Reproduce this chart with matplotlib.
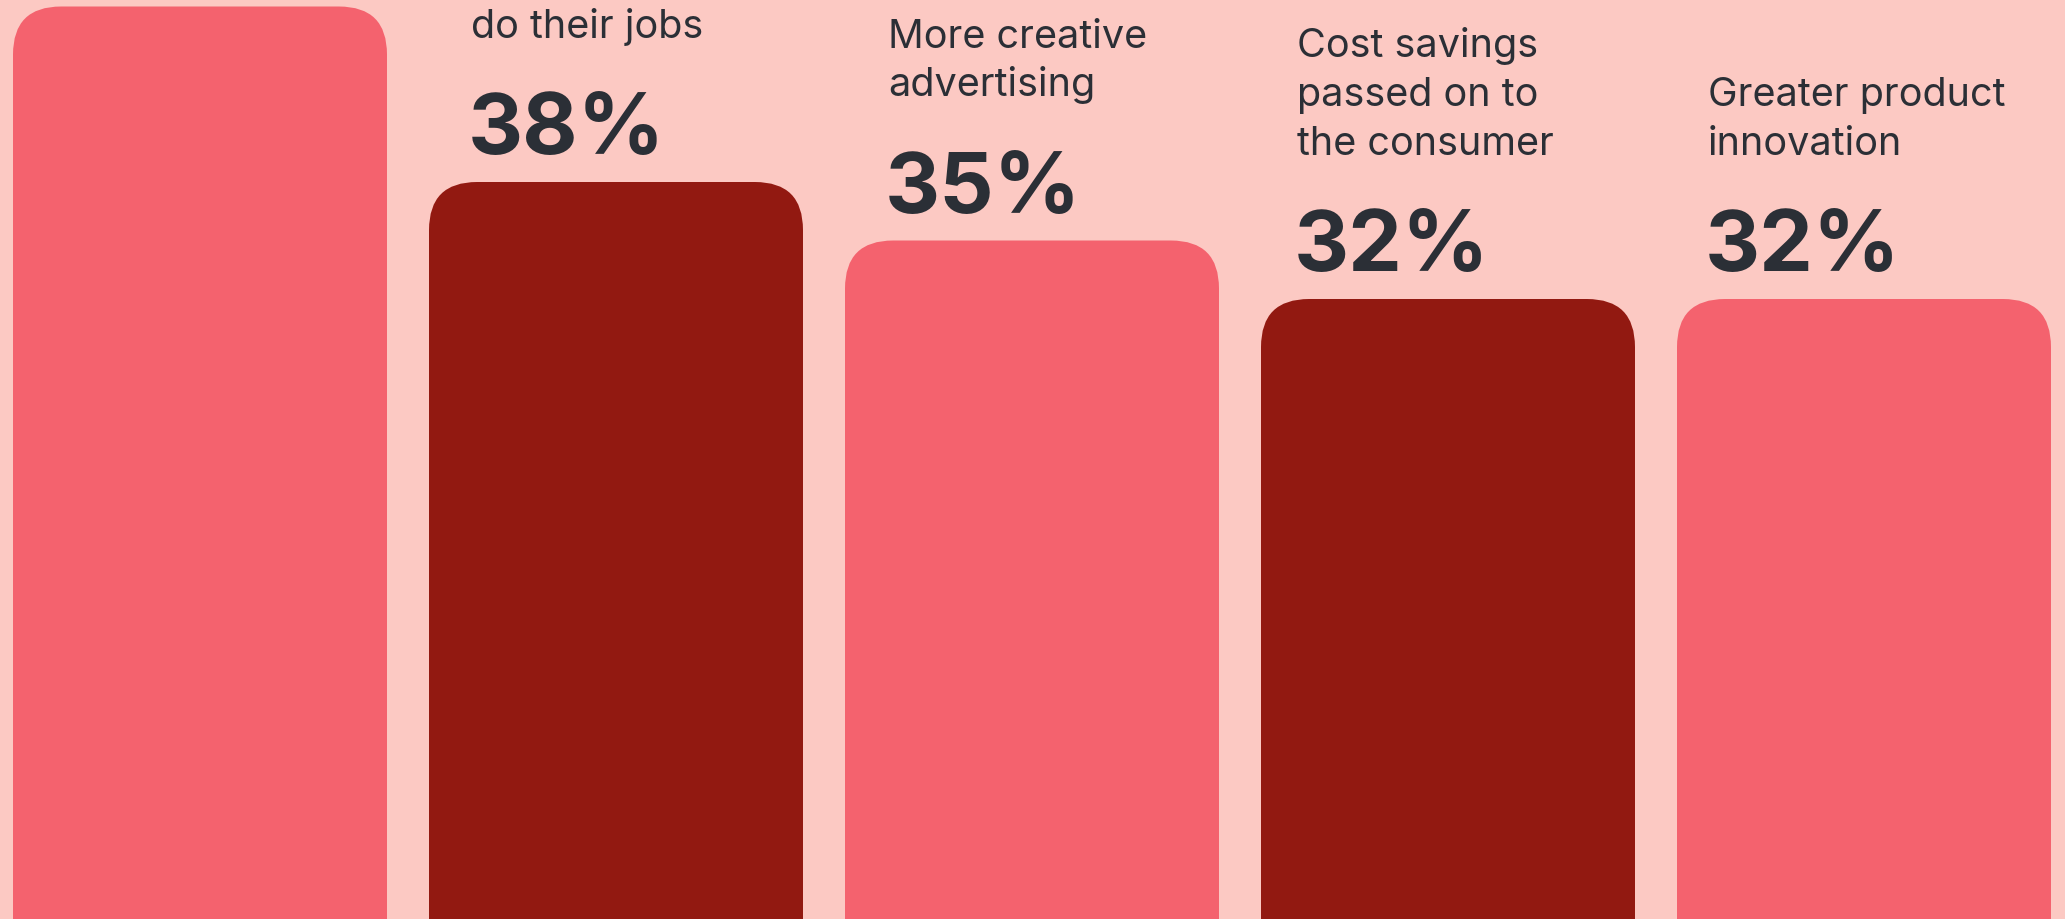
import matplotlib
matplotlib.use("Agg")
import matplotlib.pyplot as plt
from matplotlib.patches import FancyBboxPatch

# Survey results: share of respondents citing each benefit
categories = [
    "",
    "Helping workers\ndo their jobs",
    "More creative\nadvertising",
    "Cost savings\npassed on to\nthe consumer",
    "Greater product\ninnovation",
]
values = [47, 38, 35, 32, 32]
value_labels = ["47%", "38%", "35%", "32%", "32%"]

BG = "#FCC9C3"
LIGHT = "#F4626E"
DARK = "#921911"
INK = "#2B2F36"
bar_colors = [LIGHT, DARK, LIGHT, DARK, LIGHT]

W, H, DPI = 2065, 919, 100
fig = plt.figure(figsize=(W / DPI, H / DPI), dpi=DPI, facecolor=BG)
ax = fig.add_axes([0, 0, 1, 1])
ax.set_facecolor(BG)

px_per_x = 416.0          # pixels per category step
px_per_pct = 19.5         # pixels per percentage point
x0_px = 200.0             # centre of the first bar
ax.set_xlim(-x0_px / px_per_x, (W - x0_px) / px_per_x)
ax.set_ylim(4 / px_per_pct, 923 / px_per_pct)
ax.axis("off")

bar_w = 374 / px_per_x
xs = list(range(len(values)))
rects = ax.bar(xs, values, width=bar_w, color=bar_colors)

# swap the plain rectangles for ones with rounded top corners
radius_px = 48
r_x = radius_px / px_per_x
aspect = (radius_px / px_per_pct) / r_x
extra = 6  # push bottom corners out of view
for rect, c in zip(rects, bar_colors):
    x, y = rect.get_x(), rect.get_y()
    w, h = rect.get_width(), rect.get_height()
    rect.set_visible(False)
    patch = FancyBboxPatch(
        (x, y - extra), w, h + extra,
        boxstyle=f"round,pad=0,rounding_size={r_x}",
        mutation_aspect=aspect, facecolor=c, edgecolor="none",
    )
    ax.add_patch(patch)

pct_font = dict(family=["Inter", "DejaVu Sans"], fontsize=61.5, fontweight="bold", color=INK)
lab_font = dict(family=["Inter", "DejaVu Sans"], fontsize=28.5, color=INK)

text_dx = [42, 42, 43, 36, 31]   # px from each bar's left edge to its text column
pct_shift = -3                   # compensate for digit side bearing
pct_dy = 28                      # px from bar top to value baseline
lab_dy = 144                     # px from bar top to last label baseline
line_gap = 49                    # px between label lines

for rect, v, vl, cat, dx in zip(rects, values, value_labels, categories, text_dx):
    left = rect.get_x()
    ax.annotate(vl, xy=(left, v), xytext=(dx + pct_shift, pct_dy),
                textcoords="offset pixels", ha="left", va="baseline",
                annotation_clip=False, **pct_font)
    lines = cat.split("\n") if cat else []
    n = len(lines)
    for k, line in enumerate(lines):
        dy = lab_dy + (n - 1 - k) * line_gap
        ax.annotate(line, xy=(left, v), xytext=(dx, dy),
                    textcoords="offset pixels", ha="left", va="baseline",
                    annotation_clip=False, **lab_font)

fig.savefig("out.png", dpi=DPI, facecolor=BG)
